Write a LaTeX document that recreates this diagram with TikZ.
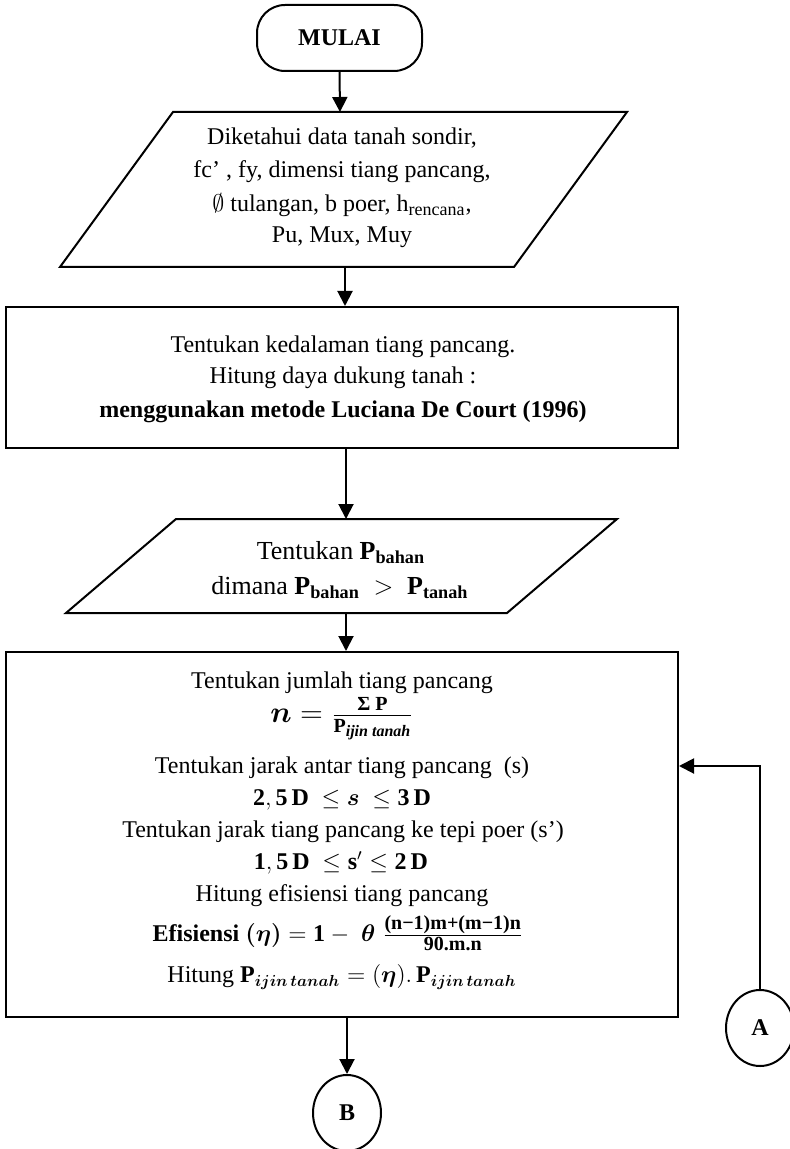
\RequirePackage{fix-cm}
\documentclass[tikz,border=0pt,12pt]{standalone}
\usepackage{amsmath,bm}
\usepackage{fontspec}
\setmainfont{Liberation Serif}
\usetikzlibrary{arrows.meta,shapes.geometric}
\newcommand{\smb}[1]{\text{\fontsize{10}{12}\selectfont\bfseries #1}}
\newcommand{\sub}[1]{\text{\fontsize{8}{9}\selectfont\bfseries\itshape #1}}
\newcommand{\nfrac}{\ensuremath{\boldsymbol{n} = \frac{\smb{Σ P}}{\smb{P}_{\sub{ijin tanah}}}}}
\newcommand{\effrac}{\ensuremath{\frac{\smb{(n−1)m+(m−1)n}}{\smb{90.m.n}}}}
\begin{document}
\begin{tikzpicture}[x=0.5pt,y=-0.5pt,
  line width=1pt,
  boxst/.style={draw, line width=1pt, inner sep=0pt, minimum width=336pt},
  txt/.style={inner sep=0pt, font=\fontsize{12}{14}\selectfont},
  bigtxt/.style={inner sep=0pt, font=\fontsize{13}{16}\selectfont},
  hugetxt/.style={inner sep=0pt, font=\fontsize{15}{18}\selectfont},
  arr/.style={-{Triangle[length=7.5pt,width=7.5pt]}, line width=1pt},
  conn/.style={draw, ellipse, line width=1pt, inner sep=0pt, minimum width=34pt, minimum height=38pt, font=\bfseries\fontsize{12}{14}\selectfont}
]
\useasboundingbox (0,0) rectangle (789,1149);

% start
\node[draw, rounded corners=14pt, minimum width=82.5pt, minimum height=33pt, inner sep=0pt,
      font=\bfseries\fontsize{12}{14}\selectfont] (mulai) at (339.5,38) {MULAI};

% parallelogram 1
\draw (173,112) -- (627,112) -- (514,267) -- (60,267) -- cycle;
\coordinate (p1n) at (340,112);
\coordinate (p1s) at (345,267);
\node[txt] (t11) at (342,138) {Diketahui data tanah sondir,};
\node[txt] (t12) at (342,172) {fc’ , fy, dimensi tiang pancang,};
\node[txt] (t13) at (342,205) {$\emptyset$ tulangan, b poer, h$_{\text{\fontsize{9}{10}\selectfont rencana}}$,};
\node[txt] (t14) at (342,237) {Pu, Mux, Muy};

% rectangle 1
\node[boxst, minimum height=70.5pt] (r1) at (342,377.5) {};
\node[txt] (t21) at (343,347) {Tentukan kedalaman tiang pancang.};
\node[txt] (t22) at (343,378) {Hitung daya dukung tanah :};
\node[txt, font=\bfseries] (t23) at (343,412) {menggunakan metode Luciana De Court (1996)};

% parallelogram 2
\draw (176,519) -- (617,519) -- (507,613) -- (66,613) -- cycle;
\coordinate (p2n) at (346,519);
\coordinate (p2s) at (346,613);
\node[bigtxt] (t31) at (341,553) {Tentukan $\mathbf{P}_{\mathbf{bahan}}$};
\node[bigtxt] (t32) at (340,588) {dimana $\mathbf{P}_{\mathbf{bahan}}\ >\ \mathbf{P}_{\mathbf{tanah}}$};

% rectangle 2
\node[boxst, minimum height=182.5pt] (r2) at (342,834.5) {};
\node[txt] (t41) at (342,683) {Tentukan jumlah tiang pancang};
\node[hugetxt] (t42) at (342,719) {\nfrac};
\node[txt] (t43) at (342,768) {Tentukan jarak antar tiang pancang\ \ (s)};
\node[txt] (t44) at (342,800) {$\mathbf{2,5\,D}\ \leq \boldsymbol{s}\ \leq \mathbf{3\,D}$};
\node[txt] (t45) at (343,832) {Tentukan jarak tiang pancang ke tepi poer (s’)};
\node[txt] (t46) at (341,863) {$\mathbf{1,5\,D}\ \leq \mathbf{s}'\leq \mathbf{2\,D}$};
\node[txt] (t47) at (342,896) {Hitung efisiensi tiang pancang};
\node[txt] (t48) at (338,933) {\textbf{Efisiensi} $\boldsymbol{(\eta)} = \mathbf{1} -\;\boldsymbol{\theta}\;\effrac$};
\node[txt] (t49) at (342,977) {Hitung $\mathbf{P}_{\boldsymbol{ijin\,tanah}} = (\boldsymbol{\eta}).\,\mathbf{P}_{\boldsymbol{ijin\,tanah}}$};

% connectors
\node[conn] (A) at (760,1028) {A};
\node[conn] (B) at (347,1113) {B};
\coordinate (ain) at ([yshift=34.25pt]r2.east);

\draw[arr] (mulai.south) -- (p1n);
\draw[arr] (p1s) -- (p1s |- r1.north);
\draw[arr] (p2n |- r1.south) -- (p2n);
\draw[arr] (p2s) -- (p2s |- r2.north);
\draw[arr] (B.north |- r2.south) -- (B.north);
\draw[arr] (A.north) |- (ain);
\end{tikzpicture}
\end{document}
